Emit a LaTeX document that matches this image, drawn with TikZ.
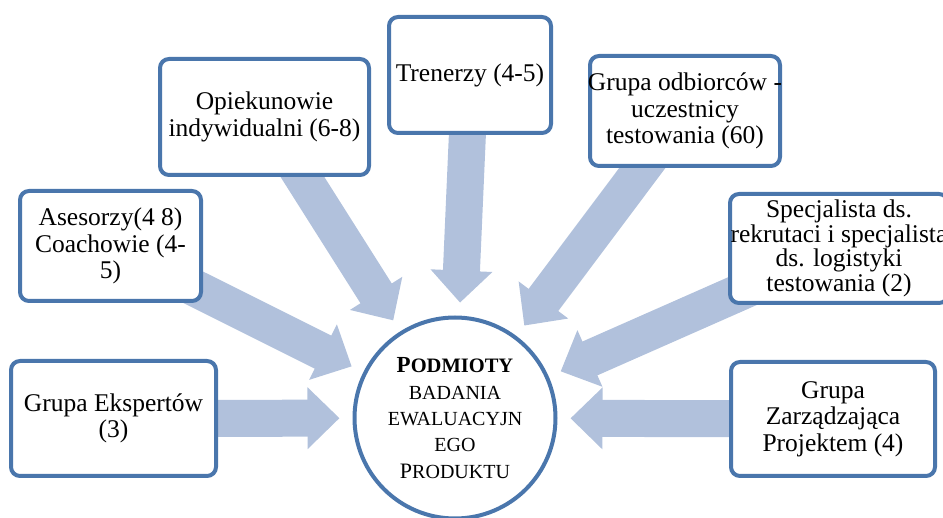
\documentclass[tikz,border=0pt]{standalone}
\usepackage{fontspec}
\setmainfont{Liberation Serif}
\usetikzlibrary{arrows.meta,backgrounds}
\definecolor{ramka}{RGB}{74,118,172}
\definecolor{strzalka}{RGB}{177,193,220}
% kapitaliki: duza pierwsza litera, reszta mniejsza
\newcommand{\kapit}[2]{{\fontsize{22}{26}\selectfont #1}{\fontsize{20}{26}\selectfont #2}}
\newcommand{\kapitb}[2]{{\fontsize{23}{26}\selectfont #1}{\fontsize{20.5}{26}\selectfont #2}}
\tikzset{
  grupabox/.style={draw=ramka, line width=4pt, rounded corners=9pt, fill=white,
    align=center, inner sep=3pt, font=\fontsize{25.5}{26.5}\selectfont},
  wielkastrzalka/.style={draw=strzalka, line width=37pt,
    -{Triangle[length=32pt,width=60pt]}, shorten >=13pt}
}
\begin{document}
\begin{tikzpicture}[x=1pt,y=-1pt]
\useasboundingbox (0,0) rectangle (943,518);
% srodek
\node[draw=ramka, line width=4pt, circle, minimum size=201pt, fill=white,
  align=center, inner sep=0pt, font=\fontsize{20}{26.3}\selectfont] (podmiot) at (455,418)
  {\textbf{\kapitb{P}{ODMIOTY}}\\ BADANIA\\ EWALUACYJN\\ EGO\\ \kapit{P}{RODUKTU}};
% grupy
\node[grupabox, minimum width=205pt, minimum height=115pt] (ekspert) at (113.5,418.5)
  {Grupa Ekspertów\\(3)};
\node[grupabox, minimum width=181pt, minimum height=110pt] (asesor) at (110.5,246)
  {Asesorzy(4 8)\\Coachowie (4-\\5)};
\node[grupabox, minimum width=209pt, minimum height=116pt] (opiekun) at (264.5,117)
  {Opiekunowie\\indywidualni (6-8)};
\node[grupabox, minimum width=162pt, minimum height=116pt] (trener) at (470,75)
  {Trenerzy (4-5)};
\node[grupabox, minimum width=190pt, minimum height=110pt] (odbiorca) at (685,111)
  {\makebox[0pt]{Grupa odbiorców -}\\uczestnicy\\testowania (60)};
\node[grupabox, minimum width=218pt, minimum height=109pt,
  font=\fontsize{25.5}{24.5}\selectfont] (specjalista) at (839,248.5)
  {Specjalista ds.\\\makebox[0pt]{rekrutaci i specjalista}\\ds. logistyki\\testowania (2)};
\node[grupabox, minimum width=204pt, minimum height=114pt] (zarzad) at (833,419)
  {Grupa\\Zarządzająca\\Projektem (4)};
% strzalki pod ramkami
\begin{scope}[on background layer]
\foreach \grupa in {ekspert,asesor,opiekun,trener,odbiorca,specjalista,zarzad}
  \draw[wielkastrzalka] (\grupa.center) -- (podmiot);
\end{scope}
\end{tikzpicture}
\end{document}
